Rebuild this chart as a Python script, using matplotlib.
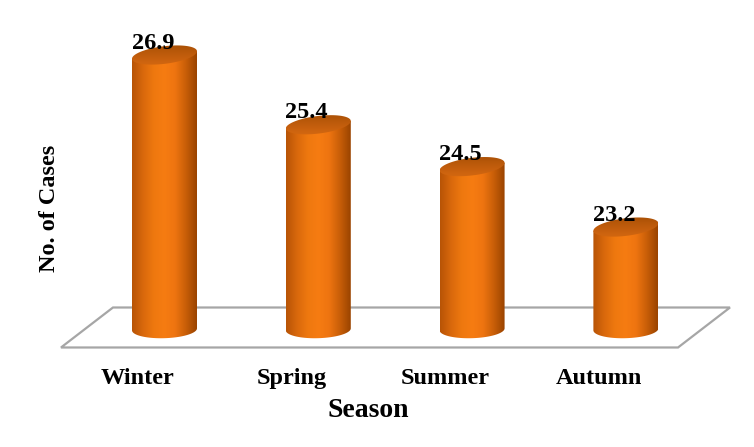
"""Cylindre 3D : nombre de cas par saison."""
import numpy as np
import matplotlib
matplotlib.use("Agg")
import matplotlib.pyplot as plt
from matplotlib.path import Path
from matplotlib.patches import PathPatch, Polygon
from matplotlib.colors import LinearSegmentedColormap
from matplotlib.transforms import ScaledTranslation

seasons = ["Winter", "Spring", "Summer", "Autumn"]
cases = [26.9, 25.4, 24.5, 23.2]
base = 21.0

plt.rcParams["font.family"] = ["Liberation Serif", "DejaVu Serif"]
plt.rcParams["font.weight"] = "bold"

fig = plt.figure(figsize=(7.54, 4.47), dpi=100)
ax = fig.add_axes([40 / 754, 97 / 447, 700 / 754, 330 / 447])
ax.set_xlim(-0.8095, 3.742)
ax.set_ylim(20.556, 27.653)

# floor (parallelogram)
floor_lo, floor_hi, shift = 20.61, 21.47, 0.338
xl, xr = -0.673, 3.339
floor = Polygon([(xl, floor_lo), (xl + shift, floor_hi), (xr + shift, floor_hi), (xr, floor_lo)],
                closed=True, facecolor="white", edgecolor="#a6a6a6", lw=1.6, zorder=1)
ax.add_patch(floor)

body_cmap = LinearSegmentedColormap.from_list(
    "body", ["#b85406", "#d8680c", "#ee780f", "#f67c12", "#ee7410", "#c85e08", "#9a4400"])
top_cmap = LinearSegmentedColormap.from_list("top", ["#d86a12", "#c05c0c", "#a44e04"])

a = 0.2113          # demi-largeur
b = 0.19            # demi-hauteur ellipse
s_top, s_bot = 0.38, 0.10
t = np.linspace(0, np.pi, 60)

for i, v in enumerate(cases):
    # corps : arc bas + bord haut incliné
    bx = i + a * np.cos(np.pi + t)
    by = base + b * np.sin(np.pi + t) + s_bot * (bx - i)
    verts = list(zip(bx, by))
    verts += [(i + a, v + s_top * a), (i - a, v - s_top * a)]
    clip = Path(verts + [verts[0]], closed=True)
    grad = np.linspace(0, 1, 200).reshape(1, -1)
    im = ax.imshow(grad, cmap=body_cmap, aspect="auto", zorder=2,
                   extent=[i - a, i + a, base - 2 * b, v + 2 * b])
    im.set_clip_path(PathPatch(clip, transform=ax.transData))

    # dessus
    tt = np.linspace(0, 2 * np.pi, 120)
    ex = i + a * np.cos(tt)
    ey = v + b * np.sin(tt) + s_top * (ex - i)
    top_path = Path(np.column_stack([ex, ey]), closed=True)
    vgrad = np.linspace(0, 1, 100).reshape(-1, 1)
    im2 = ax.imshow(vgrad, cmap=top_cmap, aspect="auto", zorder=3, origin="lower",
                    extent=[i - a, i + a, v - b - s_top * a, v + b + s_top * a])
    im2.set_clip_path(PathPatch(top_path, transform=ax.transData))

    ax.text(i - 0.075, v + 0.14, f"{v:.1f}", ha="center", va="baseline",
            fontsize=17.5, fontweight="bold", zorder=4)

ax.set_xticks(range(len(seasons)))
ax.set_xticklabels(seasons, fontsize=17.5, fontweight="bold")
ax.tick_params(axis="x", length=0, pad=13)
for lab in ax.get_xticklabels():
    lab.set_transform(lab.get_transform() + ScaledTranslation(-0.27, 0, fig.dpi_scale_trans))
ax.set_yticks([])
for sp in ax.spines.values():
    sp.set_visible(False)

ax.set_xlabel("Season", fontsize=20, fontweight="bold")
ax.xaxis.set_label_coords(0.469, -0.145)
ax.set_ylabel("No. of Cases", fontsize=17.5, fontweight="bold")
ax.yaxis.set_label_coords(0.029, 0.43)

fig.savefig("out.png", dpi=100)
